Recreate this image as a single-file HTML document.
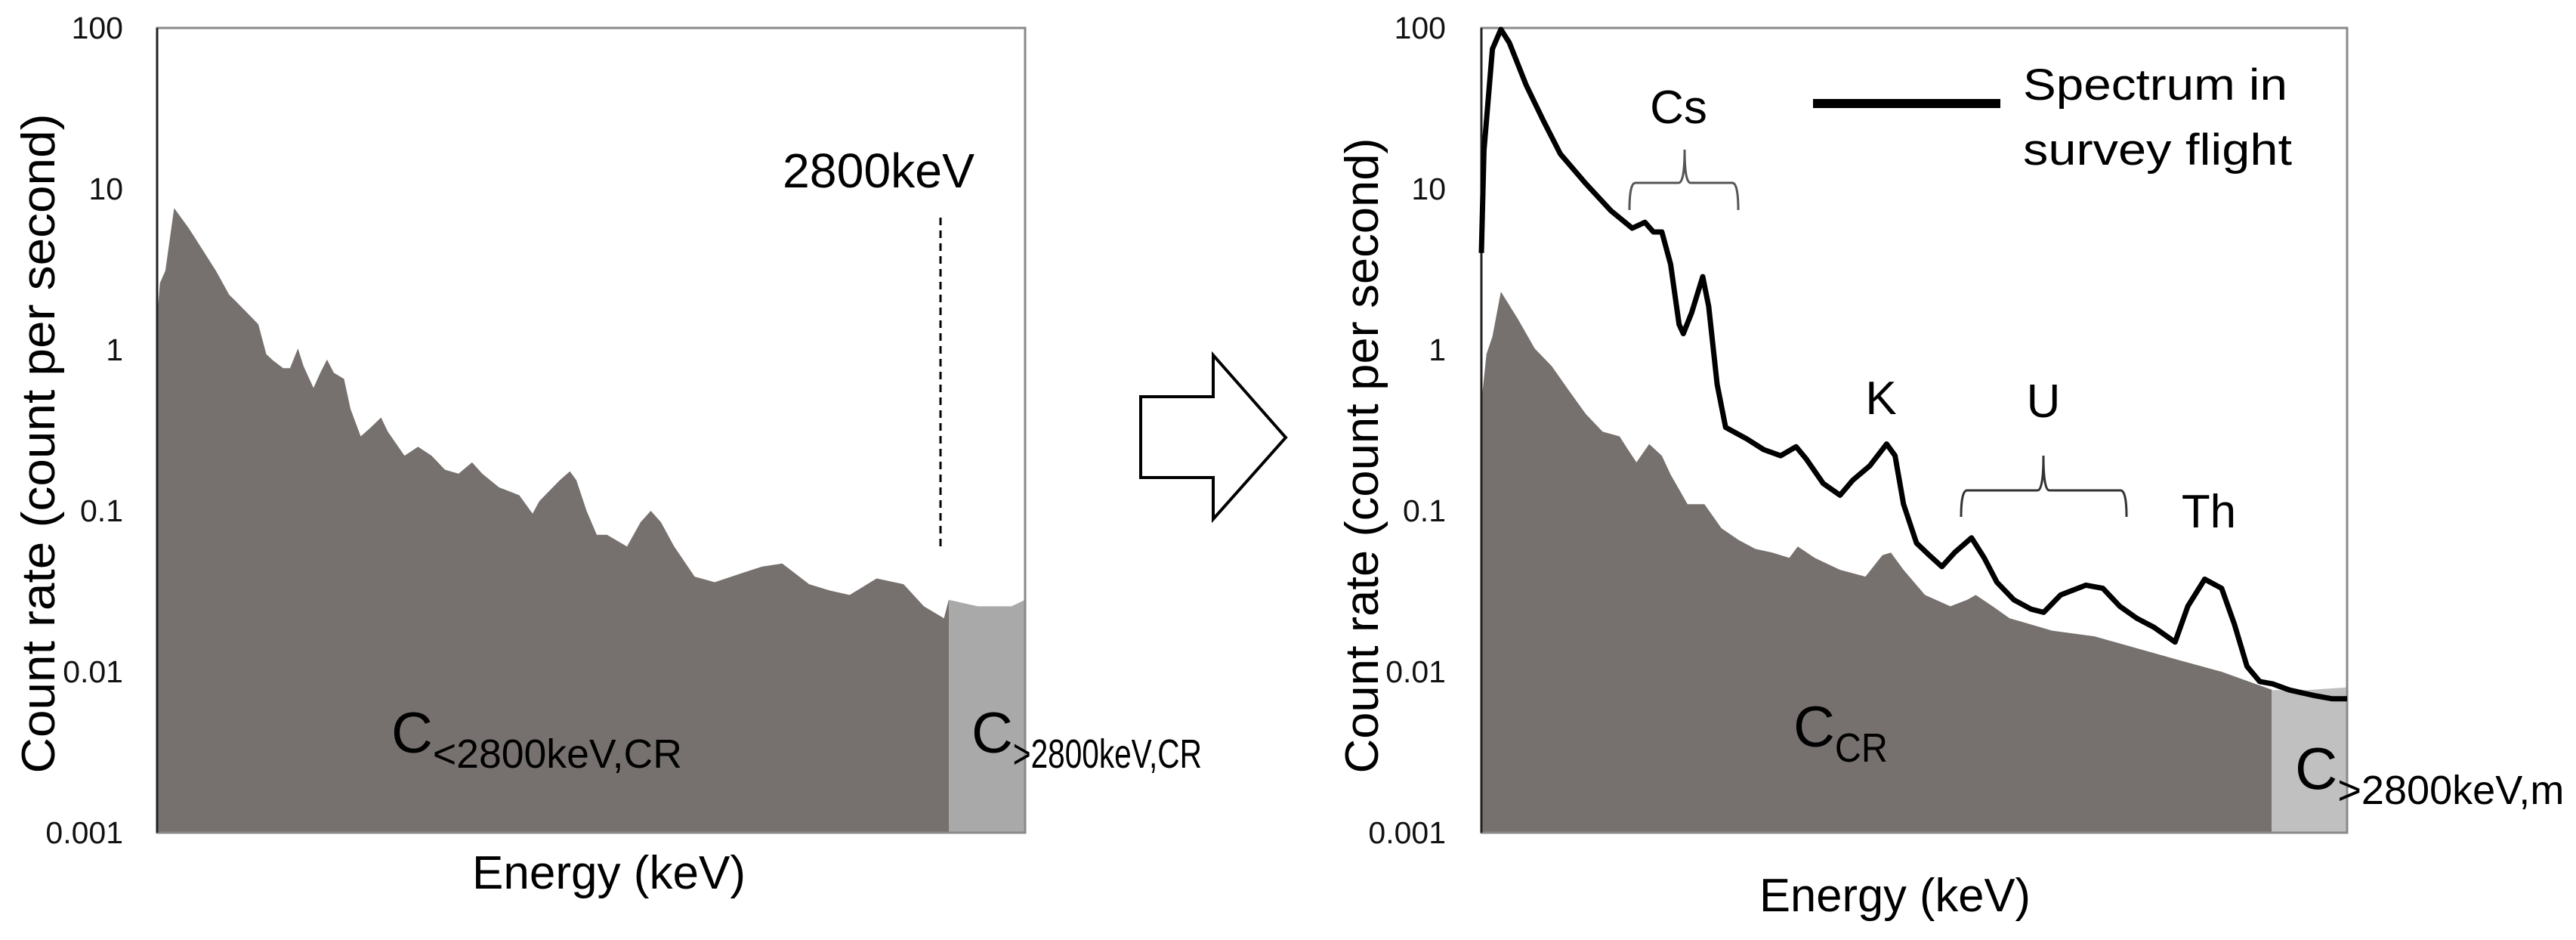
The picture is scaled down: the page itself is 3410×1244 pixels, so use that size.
<!DOCTYPE html>
<html><head><meta charset="utf-8"><style>
html,body{margin:0;padding:0;background:#fff;}
svg{display:block;font-family:"Liberation Sans",sans-serif;}
</style></head><body>
<svg id="fig" width="3410" height="1244" viewBox="0 0 3410 1244" xmlns="http://www.w3.org/2000/svg">
<defs>
<clipPath id="clipL1"><rect x="208" y="0" width="1048" height="1102"/></clipPath>
<clipPath id="clipL2"><rect x="1256" y="0" width="101" height="1102"/></clipPath>
<clipPath id="clipR1"><rect x="1961" y="0" width="1046" height="1102"/></clipPath>
<clipPath id="clipR2"><rect x="3007" y="0" width="100" height="1102"/></clipPath>
</defs>
<g id="left"></g>
<g id="right"></g>

<line x1="1245" y1="288" x2="1245" y2="726" stroke="#000" stroke-width="3" stroke-dasharray="10,7"/>
<text x="1036" y="248" font-size="64" textLength="254" lengthAdjust="spacingAndGlyphs">2800keV</text>
<text x="518" y="996" font-size="76">C<tspan font-size="54" dy="20" textLength="330" lengthAdjust="spacingAndGlyphs">&lt;2800keV,CR</tspan></text>
<text x="1286" y="996" font-size="76">C<tspan font-size="54" dy="20" textLength="250" lengthAdjust="spacingAndGlyphs">&gt;2800keV,CR</tspan></text>
<text transform="translate(72,587) rotate(-90)" text-anchor="middle" font-size="62" textLength="873" lengthAdjust="spacingAndGlyphs">Count rate (count per second)</text>
<text x="625" y="1176" font-size="62" textLength="362" lengthAdjust="spacingAndGlyphs">Energy (keV)</text>

<polygon points="1510,525 1606,525 1606,470 1702,579 1606,687 1606,632 1510,632" fill="#fff" stroke="#000" stroke-width="4"/>

<text transform="translate(1824,603) rotate(-90)" text-anchor="middle" font-size="62" textLength="841" lengthAdjust="spacingAndGlyphs">Count rate (count per second)</text>
<text x="2329" y="1206" font-size="62" textLength="359" lengthAdjust="spacingAndGlyphs">Energy (keV)</text>
<text x="2222" y="163" font-size="62" text-anchor="middle">Cs</text>
<path d="M2157,278 Q2157,242 2165,242 L2222,242 Q2230,242 2230,198 Q2230,242 2238,242 L2293,242 Q2301,242 2301,278" fill="none" stroke="#555" stroke-width="3"/>
<text x="2490" y="548" font-size="62" text-anchor="middle">K</text>
<text x="2705" y="552" font-size="62" text-anchor="middle">U</text>
<path d="M2596,684 Q2596,649 2604,649 L2697,649 Q2705,649 2705,603 Q2705,649 2713,649 L2807,649 Q2815,649 2815,684" fill="none" stroke="#333" stroke-width="3"/>
<text x="2924" y="698" font-size="62" text-anchor="middle">Th</text>
<text x="2374" y="988" font-size="76">C<tspan font-size="54" dy="20" textLength="70" lengthAdjust="spacingAndGlyphs">CR</tspan></text>
<text x="3038" y="1044" font-size="78">C<tspan font-size="54" dy="20" textLength="300" lengthAdjust="spacingAndGlyphs">&gt;2800keV,m</tspan></text>
<line x1="2400" y1="137" x2="2648" y2="137" stroke="#000" stroke-width="12"/>
<text x="2678" y="132" font-size="58" textLength="350" lengthAdjust="spacingAndGlyphs">Spectrum in</text>
<text x="2678" y="218" font-size="58" textLength="356" lengthAdjust="spacingAndGlyphs">survey flight</text>
</svg>
<script>
const tickValues = [100, 10, 1, 0.1, 0.01, 0.001];
const tickLabels = ["100", "10", "1", "0.1", "0.01", "0.001"];
const cutoffEnergy = 2800;

const leftEnergy = [0,10,29,60,112,208,255,279,339,358,386,410,446,470,498,518,553,577,601,625,661,684,720,756,792,816,875,923,971,1018,1066,1114,1150,1209,1281,1328,1352,1424,1460,1483,1519,1555,1591,1662,1710,1746,1782,1829,1901,1972,2068,2139,2211,2306,2378,2449,2545,2640,2712,2783,2800,2903,3022,3070];
const leftCounts = [1.56,2.6,3.1,7.6,5.7,3.1,2.2,2.0,1.56,1.44,0.94,0.86,0.77,0.77,1.02,0.79,0.58,0.72,0.87,0.72,0.66,0.43,0.29,0.33,0.38,0.31,0.22,0.25,0.22,0.18,0.17,0.20,0.17,0.14,0.125,0.096,0.115,0.155,0.176,0.155,0.10,0.071,0.071,0.060,0.085,0.10,0.085,0.060,0.039,0.036,0.041,0.045,0.047,0.035,0.032,0.030,0.038,0.035,0.0255,0.0215,0.028,0.0255,0.0255,0.028];

const rightGrayEnergy = [0,18,39,69,129,189,250,310,370,430,490,520,550,595,640,671,731,791,851,911,971,1031,1092,1122,1182,1272,1362,1422,1452,1497,1573,1663,1723,1753,1813,1873,2024,2174,2324,2475,2625,2745,2806,2926,3070];
const rightGrayCounts = [0.47,0.94,1.21,2.3,1.56,1.02,0.79,0.56,0.40,0.31,0.29,0.24,0.20,0.26,0.22,0.168,0.110,0.110,0.078,0.066,0.058,0.055,0.051,0.060,0.051,0.043,0.039,0.053,0.055,0.043,0.030,0.0255,0.028,0.030,0.0255,0.0215,0.018,0.0166,0.014,0.0118,0.0100,0.0084,0.0077,0.0077,0.0080];

const flightEnergy = [0,9,39,69,99,159,220,280,370,460,535,580,610,640,671,701,716,746,785,806,836,866,941,1001,1061,1116,1152,1212,1272,1317,1377,1437,1467,1497,1543,1588,1633,1678,1738,1783,1828,1888,1949,1994,2054,2144,2204,2264,2324,2385,2460,2505,2565,2625,2670,2715,2760,2806,2866,2956,3016,3070];
const flightCounts = [4.0,17.3,74,98,81,44,26.5,16.5,10.8,7.3,5.7,6.2,5.4,5.4,3.4,1.44,1.26,1.71,2.85,1.86,0.61,0.33,0.28,0.24,0.22,0.25,0.21,0.148,0.125,0.155,0.19,0.26,0.22,0.110,0.063,0.053,0.045,0.055,0.068,0.051,0.036,0.028,0.0245,0.0234,0.030,0.0345,0.033,0.0255,0.0215,0.0189,0.0153,0.0255,0.0376,0.033,0.0198,0.0108,0.0087,0.0084,0.0077,0.0071,0.0068,0.0068];

const NS = "http://www.w3.org/2000/svg";
const Y_TOP = 37, Y_BOT = 1102, E_MAX = 3070;
function yScale(v){ const l = Math.log10(v); return Y_TOP + (2 - l) / 5 * (Y_BOT - Y_TOP); }
function makeX(x0, x1){ return e => x0 + e / E_MAX * (x1 - x0); }
function el(tag, attrs, parent){
  const e = document.createElementNS(NS, tag);
  for (const k in attrs) e.setAttribute(k, attrs[k]);
  parent.appendChild(e); return e;
}
function areaPath(xs, energies, counts){
  let d = "M" + xs(energies[0]) + "," + Y_BOT;
  for (let i = 0; i < energies.length; i++) d += " L" + xs(energies[i]).toFixed(1) + "," + yScale(counts[i]).toFixed(1);
  d += " L" + xs(energies[energies.length-1]) + "," + Y_BOT + " Z";
  return d;
}
function linePath(xs, energies, counts){
  let d = "";
  for (let i = 0; i < energies.length; i++) d += (i ? " L" : "M") + xs(energies[i]).toFixed(1) + "," + yScale(counts[i]).toFixed(1);
  return d;
}
function drawPanel(g, x0, x1, energies, counts, clip1, clip2, light, labelRight, prefix){
  const xs = makeX(x0, x1);
  const d = areaPath(xs, energies, counts);
  const a1 = el("path", {d: d, fill: "#76716e", "clip-path": "url(#" + clip1 + ")"}, g);
  
  
  const a2 = el("path", {d: d, fill: light, "clip-path": "url(#" + clip2 + ")"}, g);
  
  
  const frame = el("rect", {x: x0, y: Y_TOP, width: x1 - x0, height: Y_BOT - Y_TOP, fill: "none", stroke: "#8a8a8a", "stroke-width": 3}, g);
  
  
  const ax = el("line", {x1: x0, y1: Y_TOP, x2: x0, y2: Y_BOT, stroke: "#222", "stroke-width": 3}, g);
  
  
  for (let i = 0; i < tickValues.length; i++){
    const t = el("text", {x: labelRight, y: yScale(tickValues[i]) + 14, "text-anchor": "end", "font-size": 41, fill: "#111"}, g);
    
    
    t.textContent = tickLabels[i];
  }
  return xs;
}
const left = document.getElementById("left");
drawPanel(left, 208, 1357, leftEnergy, leftCounts, "clipL1", "clipL2", "#a9a9a9", 163, "left");
const right = document.getElementById("right");
const xr = drawPanel(right, 1961, 3107, rightGrayEnergy, rightGrayCounts, "clipR1", "clipR2", "#c0c0c0", 1914, "right");
const fl = el("path", {d: linePath(xr, flightEnergy, flightCounts), fill: "none", stroke: "#000", "stroke-width": 7, "stroke-linejoin": "round"}, right);


</script>
</body></html>
